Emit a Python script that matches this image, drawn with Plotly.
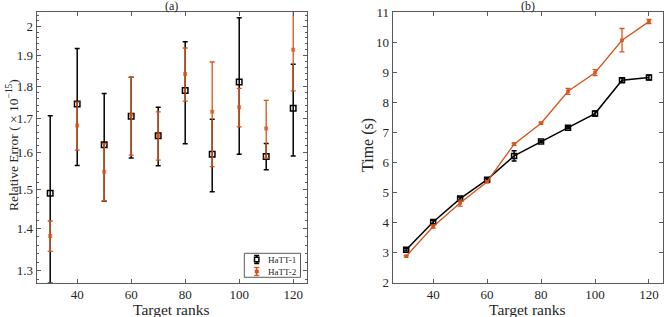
import plotly.graph_objects as go
import numpy as np

ranks = [30, 40, 50, 60, 70, 80, 90, 100, 110, 120]

# Panel (a): relative error (x 1e-15), mean and half-width of error bar
err1_mean = [1.490, 1.744, 1.623, 1.707, 1.649, 1.786, 1.596, 1.813, 1.590, 1.731]
err1_bar = [0.218, 0.179, 0.154, 0.121, 0.085, 0.160, 0.102, 0.217, 0.037, 0.140]
err2_mean = [1.382, 1.679, 1.548, 1.711, 1.650, 1.839, 1.720, 1.734, 1.670, 1.919]
err2_bar = [0.037, 0.071, 0.078, 0.117, 0.070, 0.086, 0.158, 0.059, 0.085, 0.134]

# Panel (b): time (s)
time1_mean = [3.10, 4.02, 4.80, 5.43, 6.22, 6.70, 7.16, 7.63, 8.74, 8.83]
time1_bar = [0.04, 0.06, 0.05, 0.04, 0.17, 0.03, 0.03, 0.08, 0.07, 0.08]
time2_mean = [2.88, 3.87, 4.65, 5.36, 6.61, 7.31, 8.37, 8.99, 10.07, 10.69]
time2_bar = [0.03, 0.05, 0.10, 0.04, 0.04, 0.03, 0.10, 0.10, 0.39, 0.07]

series_names = ["HaTT-1", "HaTT-2"]
yticks_a = [1.3, 1.4, 1.5, 1.6, 1.7, 1.8, 1.9, 2.0]
yticklabels_a = ["1.3", "1.4", "1.5", "1.6", "1.7", "1.8", "1.9", "2"]
yminor_a = [round(v, 2) for v in np.arange(1.28, 2.05, 0.02)]

BLACK = "#000000"
ORANGE = "#D95319"
AXC = "#5a5a5a"
TXT = "#262626"
FONT = "Liberation Serif"

W, H = 664, 317
def px(x):
    return x / W
def py(y):
    return 1 - y / H

fig = go.Figure()

# Panel (a)
fig.add_trace(go.Scatter(
    x=ranks, y=err1_mean, mode="markers", name=series_names[0],
    marker=dict(symbol="square-open", size=5.5, color=BLACK, line=dict(width=1.5, color=BLACK)),
    error_y=dict(type="data", array=err1_bar, color=BLACK, thickness=1.5, width=2.5),
    xaxis="x", yaxis="y"))
fig.add_trace(go.Scatter(
    x=ranks, y=err2_mean, mode="markers", name=series_names[1],
    marker=dict(symbol="square", size=4, color=ORANGE, opacity=0.75),
    error_y=dict(type="data", array=err2_bar, color=ORANGE, thickness=1.3, width=2.5),
    xaxis="x", yaxis="y"))

# Panel (b)
fig.add_trace(go.Scatter(
    x=ranks, y=time1_mean, mode="lines+markers", name=series_names[0],
    line=dict(color=BLACK, width=1.5),
    marker=dict(symbol="square-open", size=5, color=BLACK, line=dict(width=1.5, color=BLACK)),
    error_y=dict(type="data", array=time1_bar, color=BLACK, thickness=1.4, width=2.5),
    xaxis="x2", yaxis="y2"))
fig.add_trace(go.Scatter(
    x=ranks, y=time2_mean, mode="lines+markers", name=series_names[1],
    line=dict(color=ORANGE, width=1.3),
    marker=dict(symbol="square", size=3.5, color=ORANGE),
    error_y=dict(type="data", array=time2_bar, color=ORANGE, thickness=1.3, width=2.5),
    xaxis="x2", yaxis="y2"))

axis_common = dict(showgrid=False, zeroline=False, showline=True, linecolor=AXC, linewidth=1,
                   mirror="ticks", ticks="inside", ticklen=4, tickcolor=AXC, automargin=False,
                   tickfont=dict(family=FONT, size=13, color=TXT))

xdomA = [px(36.7), px(306.7)]
xdomB = [px(392.7), px(663.0)]
ydom = [py(282.7), py(12.3)]

fig.update_layout(
    template="none",
    width=W, height=H,
    margin=dict(l=0, r=0, t=0, b=0, autoexpand=False),
    paper_bgcolor="white", plot_bgcolor="white",
    font=dict(family=FONT, color=TXT),
    xaxis=dict(domain=xdomA, range=[25, 125], tickvals=[40, 60, 80, 100, 120],
               anchor="y", **axis_common),
    yaxis=dict(domain=ydom, type="log", range=[np.log10(1.2728), np.log10(2.05)],
               tickvals=yticks_a, ticktext=yticklabels_a, anchor="x",
               minor=dict(tickvals=yminor_a, ticks="inside", ticklen=2, tickcolor=AXC),
               **axis_common),
    xaxis2=dict(domain=xdomB, range=[25, 125.2], tickvals=[40, 60, 80, 100, 120],
                anchor="y2", **axis_common),
    yaxis2=dict(domain=ydom, range=[2, 11], tickvals=list(range(2, 12)),
                anchor="x2", **axis_common),
    showlegend=False,
)

# Legend box (MATLAB style) drawn in paper coordinates
def pline(x0, y0, x1, y1, color, width):
    fig.add_shape(type="line", xref="paper", yref="paper",
                  x0=px(x0), y0=py(y0), x1=px(x1), y1=py(y1),
                  line=dict(color=color, width=width))

fig.add_shape(type="rect", xref="paper", yref="paper",
              x0=px(244.3), x1=px(300.5), y0=py(277.3), y1=py(253.3),
              line=dict(color=AXC, width=1), fillcolor="white")
leg_rows = [(259.5, BLACK, 1.5), (271.5, ORANGE, 1.3)]
for (yc, col, lw), name in zip(leg_rows, series_names):
    xc = 256.7
    pline(xc, yc - 4, xc, yc + 4, col, lw)
    pline(xc - 2.5, yc - 4, xc + 2.5, yc - 4, col, lw)
    pline(xc - 2.5, yc + 4, xc + 2.5, yc + 4, col, lw)
    if col == BLACK:
        fig.add_shape(type="rect", xref="paper", yref="paper",
                      x0=px(xc - 2.2), x1=px(xc + 2.2), y0=py(yc + 2.2), y1=py(yc - 2.2),
                      line=dict(color=col, width=1.5), fillcolor="white")
    else:
        fig.add_shape(type="rect", xref="paper", yref="paper",
                      x0=px(xc - 1.5), x1=px(xc + 1.5), y0=py(yc + 1.5), y1=py(yc - 1.5),
                      line=dict(color=col, width=1), fillcolor=col)
    fig.add_annotation(xref="paper", yref="paper", showarrow=False,
                       x=px(267), y=py(yc), xanchor="left", yanchor="middle", borderpad=0,
                       text=name, font=dict(family=FONT, size=9, color=TXT))

ann = [
    dict(text="(a)", x=(xdomA[0] + xdomA[1]) / 2, y=py(5.5), xanchor="center", yanchor="middle", font_size=12),
    dict(text="(b)", x=(xdomB[0] + xdomB[1]) / 2, y=py(5.5), xanchor="center", yanchor="middle", font_size=12),
    dict(text="Target ranks", x=(xdomA[0] + xdomA[1]) / 2, y=py(309), xanchor="center", yanchor="middle", font_size=15.5),
    dict(text="Target ranks", x=(xdomB[0] + xdomB[1]) / 2, y=py(309), xanchor="center", yanchor="middle", font_size=15.5),
    dict(text="Relative Error ( × 10<sup>−15</sup>)", x=px(12), y=py(145), textangle=-90,
         xanchor="center", yanchor="middle", font_size=13.5),
    dict(text="Time (s)", x=px(368), y=py(145), textangle=-90,
         xanchor="center", yanchor="middle", font_size=16),
]
for a in ann:
    fs = a.pop("font_size")
    fig.add_annotation(xref="paper", yref="paper", showarrow=False,
                       font=dict(family=FONT, size=fs, color=TXT), **a)

fig.write_html("out.html", config={"displayModeBar": False},
               post_script="document.body.style.margin='0';document.body.style.overflow='hidden';")
